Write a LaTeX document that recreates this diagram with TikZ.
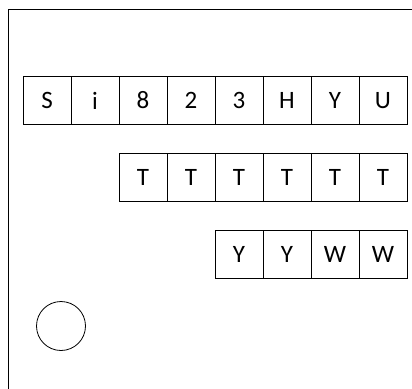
\documentclass[tikz,border=0pt]{standalone}
\usepackage{fontspec}
\setmainfont{Carlito}
\begin{document}
\begin{tikzpicture}[x=1pt,y=-1pt]
				% Styles (MODIFIABLES)
				\tikzstyle{cadre}=[line width=1pt]
				\tikzstyle{case}=[draw,line width=1pt,minimum size=48pt,inner sep=0pt,font=\fontsize{25}{30}\selectfont]
				\tikzstyle{rond}=[draw,circle,line width=0.8pt,minimum size=49pt,inner sep=0pt]
				% Dimensions (MODIFIABLES)
				\def\Cote{48}
				\def\Depart{47}
				% Dimensions calculées (NON MODIFIABLES)
				\def\LigneA{100.5}
				\def\LigneB{177}
				\def\LigneC{254}
				\useasboundingbox (0,0) rectangle (412,388);
				\clip (0,0) rectangle (412,388);
				% Cadre
				\draw[cadre] (8,9) rectangle (430,400);
				% Noeuds (MODIFIABLES)
				\node[case] (A1) at ({\Depart+(0)*\Cote},\LigneA) {S};
				\node[case] (A2) at ({\Depart+(1)*\Cote},\LigneA) {i};
				\node[case] (A3) at ({\Depart+(2)*\Cote},\LigneA) {8};
				\node[case] (A4) at ({\Depart+(3)*\Cote},\LigneA) {2};
				\node[case] (A5) at ({\Depart+(4)*\Cote},\LigneA) {3};
				\node[case] (A6) at ({\Depart+(5)*\Cote},\LigneA) {H};
				\node[case] (A7) at ({\Depart+(6)*\Cote},\LigneA) {Y};
				\node[case] (A8) at ({\Depart+(7)*\Cote},\LigneA) {U};
				%
				\node[case] (B1) at ({\Depart+(2)*\Cote},\LigneB) {T};
				\node[case] (B2) at ({\Depart+(3)*\Cote},\LigneB) {T};
				\node[case] (B3) at ({\Depart+(4)*\Cote},\LigneB) {T};
				\node[case] (B4) at ({\Depart+(5)*\Cote},\LigneB) {T};
				\node[case] (B5) at ({\Depart+(6)*\Cote},\LigneB) {T};
				\node[case] (B6) at ({\Depart+(7)*\Cote},\LigneB) {T};
				%
				\node[case] (C1) at ({\Depart+(4)*\Cote},\LigneC) {Y};
				\node[case] (C2) at ({\Depart+(5)*\Cote},\LigneC) {Y};
				\node[case] (C3) at ({\Depart+(6)*\Cote},\LigneC) {W};
				\node[case] (C4) at ({\Depart+(7)*\Cote},\LigneC) {W};
				%
				\node[rond] (O) at (61,326) {};
\end{tikzpicture}
\end{document}
